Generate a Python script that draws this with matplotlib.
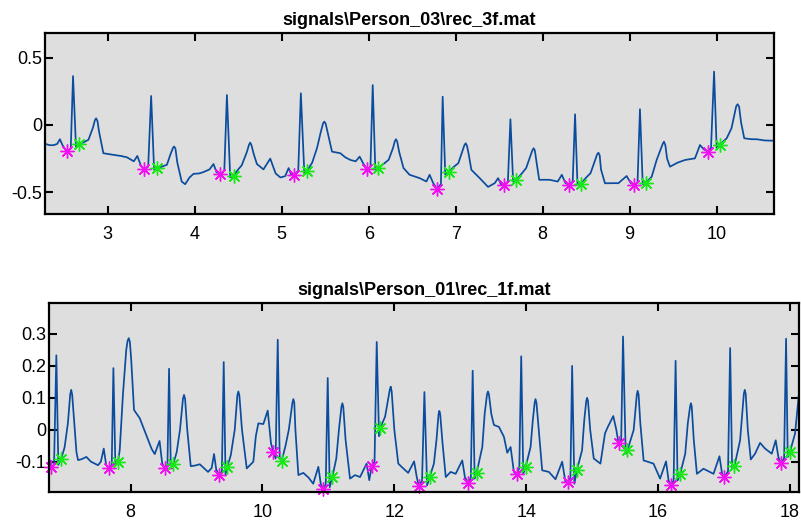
import matplotlib.pyplot as plt

plt.rcParams['font.family'] = ['Liberation Sans', 'DejaVu Sans']
plt.rcParams['axes.unicode_minus'] = False

# --- rec_3f (Person_03) ---
rec3_t = [2.28, 2.33, 2.38, 2.42, 2.45, 2.48, 2.528, 2.575, 2.601, 2.635, 2.673, 2.72, 2.778, 2.83, 2.852, 2.866,
          2.882, 2.90, 2.95,
          3.065, 3.15, 3.22, 3.30, 3.34, 3.38, 3.418,
          3.465, 3.499, 3.533, 3.564, 3.62, 3.68, 3.72, 3.75, 3.763, 3.778, 3.80, 3.85, 3.89, 3.94, 3.986, 4.05, 4.10,
          4.17, 4.216, 4.25, 4.293,
          4.34, 4.37, 4.408, 4.446, 4.50, 4.54, 4.60, 4.625, 4.638, 4.652, 4.68, 4.715, 4.79, 4.868, 4.93, 4.985,
          5.04, 5.079, 5.11, 5.144,
          5.19, 5.22, 5.26, 5.29, 5.35, 5.405, 5.45, 5.475, 5.49, 5.505, 5.53, 5.578, 5.674, 5.73, 5.79, 5.85, 5.896,
          5.94, 5.98,
          6.02, 6.046, 6.076, 6.107, 6.17, 6.229, 6.28, 6.30, 6.314, 6.328, 6.35, 6.40, 6.47, 6.586, 6.663, 6.70,
          6.74, 6.783,
          6.83, 6.85, 6.88, 6.92, 6.98, 7.03, 7.08, 7.10, 7.115, 7.13, 7.15, 7.18, 7.276, 7.372, 7.449, 7.487, 7.52,
          7.556,
          7.60, 7.629, 7.66, 7.698, 7.76, 7.81, 7.88, 7.896, 7.91, 7.93, 7.96, 8.077, 8.173, 8.22, 8.26, 8.30,
          8.345, 8.372, 8.40, 8.44, 8.50, 8.55, 8.625, 8.64, 8.655, 8.67, 8.716, 8.84, 8.869, 8.965, 9.01, 9.05,
          9.09, 9.118, 9.15, 9.19, 9.253, 9.31, 9.38, 9.394, 9.41, 9.43, 9.463, 9.55, 9.636, 9.75, 9.808, 9.85,
          9.897,
          9.935, 9.97, 10.0, 10.04, 10.08, 10.115, 10.17, 10.225, 10.241, 10.258, 10.28, 10.317, 10.40, 10.46, 10.55,
          10.66]
rec3_v = [-0.14, -0.15, -0.15, -0.14, -0.106, -0.15, -0.197, -0.175, 0.363, -0.165, -0.141, -0.13, -0.11, -0.02,
          0.035, 0.049, 0.03, -0.05, -0.21,
          -0.222, -0.23, -0.24, -0.27, -0.23, -0.30, -0.328,
          -0.31, 0.215, -0.333, -0.323, -0.31, -0.296, -0.22, -0.17, -0.16, -0.175, -0.28, -0.42, -0.44, -0.39,
          -0.363, -0.36, -0.35, -0.33, -0.29, -0.35, -0.365,
          -0.34, 0.222, -0.39, -0.376, -0.33, -0.30, -0.20, -0.145, -0.131, -0.15, -0.22, -0.29, -0.33, -0.25, -0.36,
          -0.39, -0.38, -0.32, -0.37, -0.37,
          -0.34, 0.235, -0.36, -0.34, -0.28, -0.173, -0.05, 0.012, 0.025, 0.01, -0.06, -0.198, -0.21, -0.24, -0.26,
          -0.27, -0.235, -0.29, -0.327,
          -0.31, 0.296, -0.333, -0.321, -0.29, -0.259, -0.17, -0.12, -0.106, -0.125, -0.20, -0.32, -0.37, -0.395,
          -0.42, -0.37, -0.43, -0.474,
          -0.44, 0.21, -0.37, -0.35, -0.31, -0.284, -0.19, -0.15, -0.136, -0.155, -0.22, -0.333, -0.395, -0.46,
          -0.432, -0.395, -0.44, -0.444,
          -0.42, 0.042, -0.42, -0.407, -0.36, -0.32, -0.19, -0.173, -0.19, -0.28, -0.407, -0.407, -0.42, -0.37, -0.43,
          -0.444,
          -0.42, 0.079, -0.444, -0.437, -0.39, -0.358, -0.22, -0.206, -0.225, -0.33, -0.433, -0.432, -0.433, -0.379,
          -0.43, -0.446,
          -0.43, 0.117, -0.44, -0.428, -0.384, -0.26, -0.14, -0.124, -0.15, -0.25, -0.31, -0.28, -0.26, -0.248,
          -0.149, -0.18, -0.198,
          -0.17, 0.396, -0.173, -0.149, -0.12, -0.099, -0.025, 0.14, 0.154, 0.135, 0.02, -0.099, -0.106, -0.106,
          -0.115, -0.117]
rec3_q_t = [2.528, 3.418, 4.293, 5.144, 5.98, 6.783, 7.556, 8.30, 9.053, 9.897]
rec3_q_v = [-0.197, -0.328, -0.365, -0.37, -0.327, -0.474, -0.444, -0.444, -0.446, -0.198]
rec3_j_t = [2.673, 3.564, 4.446, 5.29, 6.107, 6.92, 7.698, 8.44, 9.19, 10.04]
rec3_j_v = [-0.141, -0.323, -0.376, -0.34, -0.321, -0.35, -0.407, -0.437, -0.428, -0.149]

# --- rec_1f (Person_01) ---
rec1_t = [6.764, 6.78, 6.80, 6.84, 6.875, 6.905, 6.95, 7.00, 7.05, 7.085, 7.10, 7.115, 7.14, 7.18, 7.204, 7.26,
          7.33, 7.40, 7.507, 7.55, 7.594, 7.63, 7.674,
          7.715, 7.74, 7.77, 7.81, 7.836, 7.886, 7.935, 7.955, 7.973, 7.99, 8.01, 8.053, 8.14, 8.24, 8.32, 8.367,
          8.44, 8.48, 8.518,
          8.56, 8.584, 8.61, 8.65, 8.70, 8.75, 8.795, 8.811, 8.827, 8.86, 8.913, 8.98, 9.05, 9.175, 9.23, 9.266, 9.30,
          9.342,
          9.385, 9.413, 9.44, 9.468, 9.52, 9.58, 9.62, 9.635, 9.65, 9.69, 9.762, 9.862, 9.90, 9.938, 10.014, 10.08,
          10.13, 10.166,
          10.20, 10.232, 10.262, 10.293, 10.35, 10.40, 10.455, 10.469, 10.483, 10.50, 10.545, 10.62, 10.70, 10.77,
          10.848, 10.885, 10.923,
          10.96, 10.99, 11.02, 11.06, 11.12, 11.16, 11.198, 11.212, 11.226, 11.26, 11.328, 11.404, 11.48, 11.58,
          11.62, 11.657,
          11.70, 11.733, 11.768, 11.783, 11.86, 11.93, 11.945, 11.96, 12.0, 12.06, 12.13, 12.21, 12.30, 12.34, 12.37,
          12.42, 12.456, 12.497, 12.537, 12.60, 12.64, 12.67, 12.683, 12.696, 12.73, 12.78, 12.855, 12.93, 13.03,
          13.07, 13.117,
          13.16, 13.188, 13.218, 13.248, 13.334, 13.37, 13.405, 13.42, 13.435, 13.47, 13.51, 13.586, 13.662, 13.712,
          13.763, 13.813, 13.854,
          13.895, 13.924, 13.955, 13.99, 14.066, 14.10, 14.128, 14.141, 14.155, 14.19, 14.242, 14.343, 14.444,
          14.545, 14.595, 14.63,
          14.67, 14.696, 14.73, 14.77, 14.847, 14.88, 14.91, 14.923, 14.937, 14.97, 15.024, 15.125, 15.195, 15.24,
          15.32, 15.367, 15.40,
          15.44, 15.468, 15.508, 15.535, 15.629, 15.66, 15.677, 15.69, 15.704, 15.73, 15.78, 15.93, 16.03, 16.12,
          16.159, 16.194,
          16.235, 16.265, 16.295, 16.335, 16.411, 16.45, 16.484, 16.497, 16.51, 16.54, 16.588, 16.688, 16.84, 16.93,
          16.97, 17.006,
          17.06, 17.092, 17.122, 17.158, 17.243, 17.28, 17.30, 17.314, 17.328, 17.36, 17.405, 17.47, 17.546, 17.622,
          17.723, 17.783, 17.823, 17.859,
          17.91, 17.94, 17.965, 18.0, 18.076, 18.141]
rec1_v = [-0.089, -0.10, -0.118, -0.11, 0.233, -0.11, -0.09, -0.055, 0.02, 0.11, 0.125, 0.11, 0.04, -0.07, -0.095,
          -0.092, -0.085, -0.10, -0.111, -0.10, -0.059, -0.11, -0.121,
          -0.11, 0.193, -0.11, -0.10, -0.064, 0.114, 0.25, 0.278, 0.287, 0.275, 0.22, 0.062, 0.036, -0.017, -0.06,
          -0.076, -0.035, -0.105, -0.12,
          -0.11, 0.191, -0.11, -0.106, -0.07, 0.0, 0.097, 0.109, 0.097, 0.0, -0.114, -0.112, -0.108, -0.132, -0.12,
          -0.076, -0.125, -0.142,
          -0.13, 0.212, -0.14, -0.116, -0.08, 0.0, 0.108, 0.12, 0.108, 0.0, -0.121, -0.10, -0.02, 0.02, 0.018, 0.06,
          -0.043, -0.069,
          -0.09, 0.282, -0.09, -0.097, -0.05, 0.0, 0.085, 0.096, 0.085, 0.0, -0.142, -0.135, -0.15, -0.169, -0.116,
          -0.17, -0.186,
          -0.17, 0.162, -0.18, -0.148, -0.09, 0.0, 0.072, 0.083, 0.072, -0.03, -0.153, -0.142, -0.148, -0.106, -0.158,
          -0.113,
          -0.10, 0.275, -0.02, 0.004, 0.041, 0.124, 0.135, 0.12, 0.0, -0.106, -0.12, -0.135, -0.099, -0.148, -0.175,
          -0.16, 0.118, -0.174, -0.148, -0.106, -0.03, 0.048, 0.059, 0.048, -0.04, -0.148, -0.132, -0.138, -0.096,
          -0.148, -0.167,
          -0.15, 0.185, -0.153, -0.135, -0.054, 0.05, 0.11, 0.12, 0.11, 0.05, 0.015, 0.009, -0.022, -0.072, -0.054,
          -0.132, -0.14,
          -0.12, 0.23, -0.138, -0.117, -0.054, 0.03, 0.085, 0.096, 0.085, 0.0, -0.127, -0.132, -0.155, -0.10, -0.164,
          -0.164,
          -0.15, 0.20, -0.169, -0.125, -0.064, 0.03, 0.09, 0.10, 0.09, 0.0, -0.09, -0.106, -0.011, 0.01, 0.043,
          -0.001, -0.043,
          -0.03, 0.292, -0.075, -0.064, -0.001, 0.07, 0.11, 0.122, 0.11, 0.02, -0.096, -0.106, -0.153, -0.099, -0.159,
          -0.172,
          -0.16, 0.216, -0.159, -0.138, -0.075, 0.02, 0.072, 0.083, 0.072, -0.03, -0.138, -0.122, -0.138, -0.083,
          -0.138, -0.148,
          -0.13, 0.256, -0.122, -0.113, -0.033, 0.06, 0.113, 0.125, 0.113, 0.0, -0.093, -0.075, -0.041, -0.059,
          -0.075, -0.033, -0.085, -0.103,
          -0.09, 0.285, -0.085, -0.069, -0.012, 0.125]
rec1_q_t = [6.80, 7.674, 8.518, 9.342, 10.166, 10.923, 11.657, 12.37, 13.117, 13.854, 14.63, 15.40, 16.194, 17.006,
            17.859]
rec1_q_v = [-0.118, -0.121, -0.12, -0.142, -0.069, -0.186, -0.113, -0.175, -0.167, -0.14, -0.164, -0.043, -0.172,
            -0.148, -0.103]
rec1_j_t = [6.95, 7.81, 8.65, 9.468, 10.293, 11.06, 11.783, 12.537, 13.248, 13.99, 14.77, 15.535, 16.335, 17.158,
            18.0]
rec1_j_v = [-0.09, -0.10, -0.106, -0.116, -0.097, -0.148, 0.004, -0.148, -0.135, -0.117, -0.125, -0.064, -0.138,
            -0.113, -0.069]

LINE = '#0b4c9e'
MAG = '#f010f0'
GRN = '#18e818'
STAR = (8, 2, 0)


def draw(ax, t, v, qt, qv, jt, jv, title):
    ax.set_facecolor('#dedede')
    ax.plot(t, v, color=LINE, lw=1.25)
    ax.plot(qt, qv, ls='none', marker=STAR, ms=10, mew=1.0, color=MAG, clip_on=False)
    ax.plot(jt, jv, ls='none', marker=STAR, ms=10, mew=1.0, color=GRN, clip_on=False)
    ax.set_title(title, fontsize=13, fontweight='bold', pad=6)
    ax.tick_params(direction='in', top=True, right=True, length=6, width=1.5, labelsize=13, pad=2)
    ax.tick_params(axis='x', pad=9)
    for s in ax.spines.values():
        s.set_linewidth(1.6)


fig = plt.figure(figsize=(8.01, 5.2), dpi=100)
ax1 = fig.add_axes([0.0562, 0.5885, 0.9101, 0.3481])
ax2 = fig.add_axes([0.0612, 0.0544, 0.9367, 0.3623])

draw(ax1, rec3_t, rec3_v, rec3_q_t, rec3_q_v, rec3_j_t, rec3_j_v, 'signals\\Person_03\\rec_3f.mat')
ax1.set_xlim(2.279, 10.659)
ax1.set_ylim(-0.661, 0.683)
ax1.set_xticks(range(3, 11))
ax1.set_yticks([-0.5, 0, 0.5])
ax1.set_yticklabels(['-0.5', '0', '0.5'])

draw(ax2, rec1_t, rec1_v, rec1_q_t, rec1_q_v, rec1_j_t, rec1_j_v, 'signals\\Person_01\\rec_1f.mat')
ax2.set_xlim(6.764, 18.141)
ax2.set_ylim(-0.194, 0.396)
ax2.set_xticks(range(8, 19, 2))
ax2.set_yticks([-0.1, 0, 0.1, 0.2, 0.3])
ax2.set_yticklabels(['-0.1', '0', '0.1', '0.2', '0.3'])

fig.savefig('out.png', dpi=100)
